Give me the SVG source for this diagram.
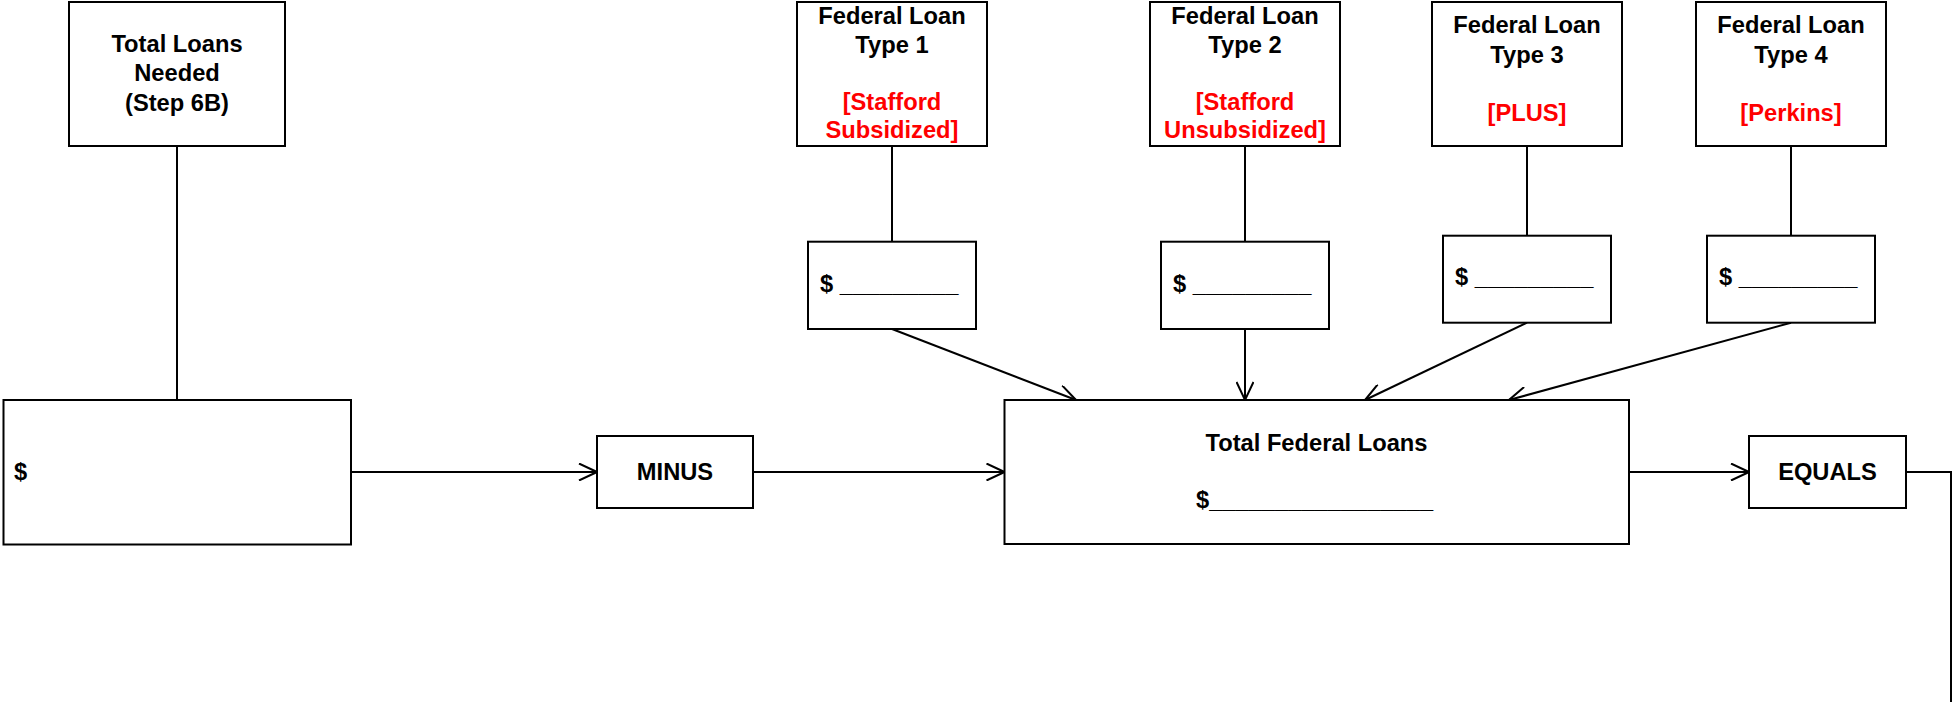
<svg xmlns="http://www.w3.org/2000/svg" width="1954" height="702" viewBox="0 0 1954 702">
<style>
.box{fill:#fff;stroke:#000;stroke-width:2}
.t{font-family:"Liberation Sans",Arial,sans-serif;font-weight:bold;font-size:23.7px;fill:#000}
.c{text-anchor:middle}
.r{fill:#ff0000}
.ln{stroke:#000;stroke-width:2;fill:none}
.ar{stroke:#000;stroke-width:2;fill:none;marker-end:url(#ah)}
</style>
<defs>
<marker id="ah" viewBox="0 0 20 18" markerWidth="20" markerHeight="18" refX="19" refY="9" orient="auto" markerUnits="userSpaceOnUse">
<path d="M1,0.5 L19,9 L1,17.5" fill="none" stroke="#000" stroke-width="2"/>
</marker>
</defs>
<rect width="1954" height="702" fill="#fff"/>
<g id="connectors">
<line class="ln" x1="177" y1="146" x2="177" y2="400"/>
<line class="ln" x1="892" y1="146" x2="892" y2="241.7"/>
<line class="ln" x1="1245" y1="146" x2="1245" y2="241.7"/>
<line class="ln" x1="1527" y1="146" x2="1527" y2="235.7"/>
<line class="ln" x1="1791" y1="146" x2="1791" y2="235.7"/>
<line class="ar" x1="351" y1="472" x2="597" y2="472"/>
<line class="ar" x1="753" y1="472" x2="1004.5" y2="472"/>
<line class="ar" x1="1629" y1="472" x2="1749" y2="472"/>
<line class="ar" x1="892" y1="329" x2="1076" y2="400"/>
<line class="ar" x1="1245" y1="329" x2="1245" y2="400"/>
<line class="ar" x1="1527" y1="322.7" x2="1365" y2="400"/>
<line class="ar" x1="1791" y1="322.7" x2="1509" y2="400"/>
<polyline class="ln" points="1906,472 1951,472 1951,702"/>
</g>
<g id="total-loans-needed">
<rect class="box" x="69" y="2" width="216" height="144"/>
<text class="t c" x="177" y="52">Total Loans</text>
<text class="t c" x="177" y="81">Needed</text>
<text class="t c" x="177" y="110.5">(Step 6B)</text>
</g>
<g id="total-loans-amount">
<rect class="box" x="3.5" y="400" width="347.5" height="144.5"/>
<text class="t" x="14" y="480">$</text>
</g>
<g id="minus">
<rect class="box" x="597" y="436" width="156" height="72"/>
<text class="t c" x="675" y="480">MINUS</text>
</g>
<g id="fed-type-1">
<rect class="box" x="797" y="2" width="190" height="144"/>
<text class="t c" x="892" y="24">Federal Loan</text>
<text class="t c" x="892" y="52.5">Type 1</text>
<text class="t c r" x="892" y="109.5">[Stafford</text>
<text class="t c r" x="892" y="138">Subsidized]</text>
</g>
<g id="fed-type-1-amount">
<rect class="box" x="808" y="241.7" width="168" height="87.3"/>
<text class="t" x="820" y="291.5">$ _________</text>
</g>
<g id="fed-type-2">
<rect class="box" x="1150" y="2" width="190" height="144"/>
<text class="t c" x="1245" y="24">Federal Loan</text>
<text class="t c" x="1245" y="52.5">Type 2</text>
<text class="t c r" x="1245" y="109.5">[Stafford</text>
<text class="t c r" x="1245" y="138">Unsubsidized]</text>
</g>
<g id="fed-type-2-amount">
<rect class="box" x="1161" y="241.7" width="168" height="87.3"/>
<text class="t" x="1173" y="291.5">$ _________</text>
</g>
<g id="fed-type-3">
<rect class="box" x="1432" y="2" width="190" height="144"/>
<text class="t c" x="1527" y="33">Federal Loan</text>
<text class="t c" x="1527" y="62.5">Type 3</text>
<text class="t c r" x="1527" y="120.5">[PLUS]</text>
</g>
<g id="fed-type-3-amount">
<rect class="box" x="1443" y="235.7" width="168" height="87"/>
<text class="t" x="1455" y="285">$ _________</text>
</g>
<g id="fed-type-4">
<rect class="box" x="1696" y="2" width="190" height="144"/>
<text class="t c" x="1791" y="33">Federal Loan</text>
<text class="t c" x="1791" y="62.5">Type 4</text>
<text class="t c r" x="1791" y="120.5">[Perkins]</text>
</g>
<g id="fed-type-4-amount">
<rect class="box" x="1707" y="235.7" width="168" height="87"/>
<text class="t" x="1719" y="285">$ _________</text>
</g>
<g id="total-federal-loans">
<rect class="box" x="1004.5" y="400" width="624.5" height="144"/>
<text class="t c" x="1316.5" y="450.5">Total Federal Loans</text>
<text class="t" x="1196" y="508">$_________________</text>
</g>
<g id="equals">
<rect class="box" x="1749" y="436" width="157" height="72"/>
<text class="t c" x="1827.5" y="480">EQUALS</text>
</g>
</svg>
